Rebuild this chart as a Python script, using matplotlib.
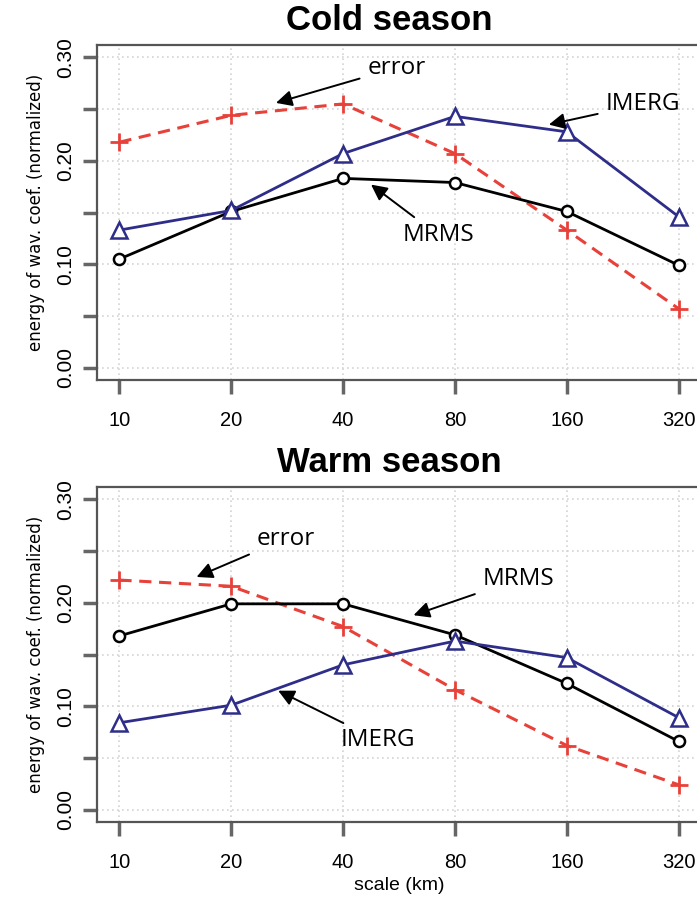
import matplotlib
matplotlib.use("Agg")
import matplotlib.pyplot as plt
import numpy as np

# scales (km) and normalized wavelet energy
scales = ["10", "20", "40", "80", "160", "320"]

cold_error = [0.218, 0.244, 0.255, 0.207, 0.133, 0.057]
cold_imerg = [0.133, 0.152, 0.207, 0.243, 0.228, 0.146]
cold_mrms = [0.105, 0.151, 0.183, 0.179, 0.151, 0.099]

warm_error = [0.222, 0.216, 0.177, 0.116, 0.062, 0.024]
warm_imerg = [0.084, 0.101, 0.140, 0.163, 0.147, 0.089]
warm_mrms = [0.168, 0.199, 0.199, 0.169, 0.122, 0.066]

# (label, text x, text y, arrow tip x, arrow tip y) in data units
cold_notes = [("error", 2.22, 0.290, 1.40, 0.256),
              ("IMERG", 4.35, 0.255, 3.84, 0.235),
              ("MRMS", 2.53, 0.128, 2.25, 0.177)]
warm_notes = [("error", 1.23, 0.262, 0.69, 0.225),
              ("MRMS", 3.25, 0.223, 2.63, 0.188),
              ("IMERG", 1.98, 0.067, 1.42, 0.115)]

red = "#e8413a"
blue = "#2e2e8a"
spine_col = "#555555"

fig = plt.figure(figsize=(6.97, 8.98), dpi=100)

def panel(rect, title, err, imerg, mrms, notes, xlabel=False):
    ax = fig.add_axes(rect)
    x = np.arange(len(scales))
    ax.set_xlim(-0.2, 5.2)
    ax.set_ylim(-0.012, 0.312)
    yt = np.arange(0, 0.301, 0.05)
    for v in yt:
        ax.axhline(v, color="#d4d4d4", lw=1.2, ls=(0, (1, 2)), zorder=0)
    for v in x:
        ax.axvline(v, color="#d4d4d4", lw=1.2, ls=(0, (1, 2)), zorder=0)

    ax.plot(x, err, color=red, lw=2.2, ls=(0, (4, 2.5)), marker="+", ms=13,
            mew=2, zorder=3)
    ax.plot(x, mrms, color="black", lw=2, marker="o", ms=8, mfc="white",
            mew=1.8, zorder=4)
    ax.plot(x, imerg, color=blue, lw=2, marker="^", ms=11, mfc="white",
            mec=blue, mew=1.8, zorder=5)

    for label, tx, ty, ax_, ay in notes:
        ax.annotate(label, xy=(ax_, ay), xytext=(tx, ty),
                    fontsize=17.5, family="Open Sans", va="center", ha="left",
                    arrowprops=dict(arrowstyle="-|>,head_length=0.6,head_width=0.3",
                                    color="black", lw=1.4,
                                    mutation_scale=16, shrinkA=4, shrinkB=0),
                    zorder=6)

    ax.set_xticks(x)
    ax.set_xticklabels(scales, family="Liberation Sans", fontsize=14.5)
    ax.set_yticks(yt)
    ax.set_yticklabels(["0.00" if abs(v) < 1e-9 else ("%.2f" % v if round(v * 100) % 10 == 0 else "")
                        for v in yt],
                       family="Liberation Sans", fontsize=15, rotation=90,
                       va="center")
    ax.tick_params(axis="both", direction="out", length=10, width=2.5,
                   color="#666666", pad=6)
    ax.tick_params(axis="x", pad=12)
    for s in ax.spines.values():
        s.set_color(spine_col)
        s.set_linewidth(1.6)
    ax.set_ylabel("energy of wav. coef. (normalized)", family="DejaVu Sans",
                  fontsize=12, labelpad=8)
    if xlabel:
        ax.set_xlabel("scale (km)", family="Liberation Sans", fontsize=14,
                      labelpad=4)
    fig.text(0.558, rect[1] + rect[3] + 0.027, title, ha="center", va="center",
             family="Liberation Sans", weight="bold", fontsize=25)
    return ax

panel([0.1392, 0.5768, 0.8665, 0.3731], "Cold season",
      cold_error, cold_imerg, cold_mrms, cold_notes)
panel([0.1392, 0.0846, 0.8665, 0.3731], "Warm season",
      warm_error, warm_imerg, warm_mrms, warm_notes, xlabel=True)

fig.savefig("out.png", dpi=100)
